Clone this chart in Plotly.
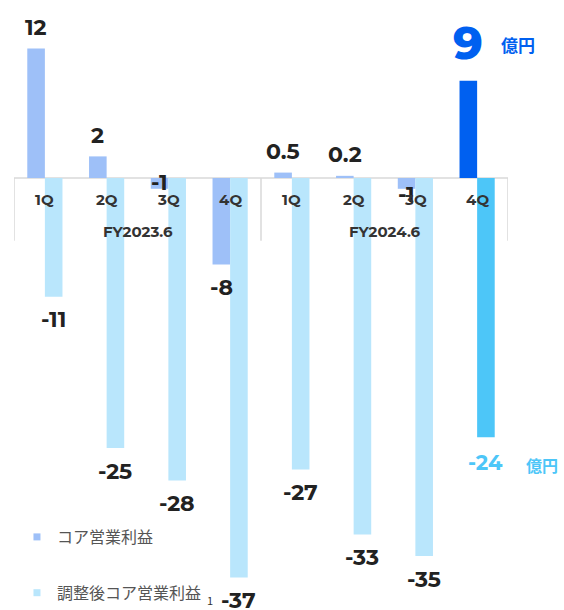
import plotly.graph_objects as go

# ---- data ----
fiscal_years = ["FY2023.6", "FY2024.6"]
quarters = ["1Q", "2Q", "3Q", "4Q"]
core_profit = [12, 2, -1, -8, 0.5, 0.2, -1, 9]
adjusted_core_profit = [-11, -25, -28, -37, -27, -33, -35, -24]
series_names = ["コア営業利益", "調整後コア営業利益"]
unit_label = "億円"

# ---- styling ----
core_color = "#9ec0f8"
core_last_color = "#0060f0"
adj_color = "#b9e6fc"
adj_last_color = "#4dc6f8"
num_font = "Montserrat, 'Open Sans', Inter, sans-serif"
jp_font = "'Noto Sans CJK JP', sans-serif"
text_color = "#222222"

n = len(core_profit)
xs = list(range(n))
core_colors = [core_color] * (n - 1) + [core_last_color]
adj_colors = [adj_color] * (n - 1) + [adj_last_color]

fig = go.Figure()
fig.add_trace(go.Bar(x=xs, y=core_profit, marker=dict(color=core_colors, line=dict(width=0)),
                     name=series_names[0], showlegend=False, hoverinfo="skip"))
fig.add_trace(go.Bar(x=xs, y=adjusted_core_profit, marker=dict(color=adj_colors, line=dict(width=0)),
                     name=series_names[1], showlegend=False, hoverinfo="skip"))
# legend-only markers (small squares)
fig.add_trace(go.Scatter(x=[None], y=[None], mode="markers", name=series_names[0],
                         marker=dict(symbol="square", size=7, color=core_color),
                         legendgroup="a"))
fig.add_trace(go.Scatter(x=[None], y=[None], mode="markers", name=series_names[1],
                         marker=dict(symbol="square", size=7, color=adj_color),
                         legendgroup="b"))

annotations = []
bar_off = 0.142
last = n - 1
for i, v in enumerate(core_profit):
    label = f"{v:g}"
    if i == last:
        annotations.append(dict(x=i - bar_off, y=v, text=label, showarrow=False,
                                yshift=38, font=dict(family=num_font, size=46, color=core_last_color, weight=800)))
        annotations.append(dict(x=i - bar_off, y=v, text=unit_label, showarrow=False,
                                xshift=50, yshift=36, font=dict(family=jp_font, size=17, color=core_last_color, weight=700)))
        continue
    if v >= 0:
        ys = 21
    elif v > -2:
        ys = 6 if i < 4 else -6
    else:
        ys = -23
    annotations.append(dict(x=i - bar_off, y=v, text=label, showarrow=False, yshift=ys,
                            font=dict(family=num_font, size=22, color=text_color, weight=700)))

for i, v in enumerate(adjusted_core_profit):
    label = f"{v:g}"
    if i == last:
        annotations.append(dict(x=i + bar_off, y=v, text=label, showarrow=False, yshift=-25,
                                font=dict(family=num_font, size=21, color=adj_last_color, weight=700)))
        annotations.append(dict(x=i + bar_off, y=v, text=unit_label, showarrow=False,
                                xshift=56, yshift=-28, font=dict(family=jp_font, size=16, color=adj_last_color, weight=700)))
        continue
    annotations.append(dict(x=i + bar_off, y=v, text=label, showarrow=False, yshift=-23,
                            font=dict(family=num_font, size=22, color=text_color, weight=700)))

# quarter labels
for i in xs:
    annotations.append(dict(x=i, y=0, text=quarters[i % len(quarters)], showarrow=False, yshift=-22,
                            font=dict(family=num_font, size=15, color="#333333", weight=700)))
# fiscal year labels
for k, fy in enumerate(fiscal_years):
    center = k * len(quarters) + (len(quarters) - 1) / 2
    annotations.append(dict(x=center, y=0, text=fy, showarrow=False, yshift=-54,
                            font=dict(family=num_font, size=15, color="#333333", weight=700)))

# footnote marker near legend
annotations.append(dict(x=0, y=0, xref="paper", yref="paper", xanchor="left", yanchor="bottom",
                        text="1", showarrow=False, xshift=191, yshift=0,
                        font=dict(family=jp_font, size=11, color="#333333")))

shapes = [dict(type="line", xref="x", yref="y", x0=-0.5, x1=n - 0.5, y0=0, y1=0,
               line=dict(color="#d9d9d9", width=1.5), layer="below")]
for k in range(len(fiscal_years) + 1):
    xb = k * len(quarters) - 0.5
    shapes.append(dict(type="line", xref="x", yref="y", x0=xb, x1=xb, y0=0, y1=-5.8,
                       line=dict(color="#d9d9d9", width=1.5), layer="below"))

fig.update_layout(
    width=564, height=610,
    margin=dict(l=14, r=56, t=0, b=0),
    paper_bgcolor="white", plot_bgcolor="white",
    barmode="group", bargap=0.43, bargroupgap=0,
    xaxis=dict(range=[-0.5, n - 0.5], visible=False, fixedrange=True),
    yaxis=dict(range=[-40, 16.48], visible=False, fixedrange=True, zeroline=False),
    annotations=annotations,
    shapes=shapes,
    showlegend=True,
    legend=dict(x=0.006, y=0.0, xanchor="left", yanchor="bottom", bgcolor="rgba(0,0,0,0)",
                font=dict(family=jp_font, size=16, color="#555555"),
                tracegroupgap=32, itemwidth=30),
)

fig.write_html("out.html", config={"displayModeBar": False, "staticPlot": True},
               post_script="document.body.style.margin='0px';document.body.style.padding='0px';")
